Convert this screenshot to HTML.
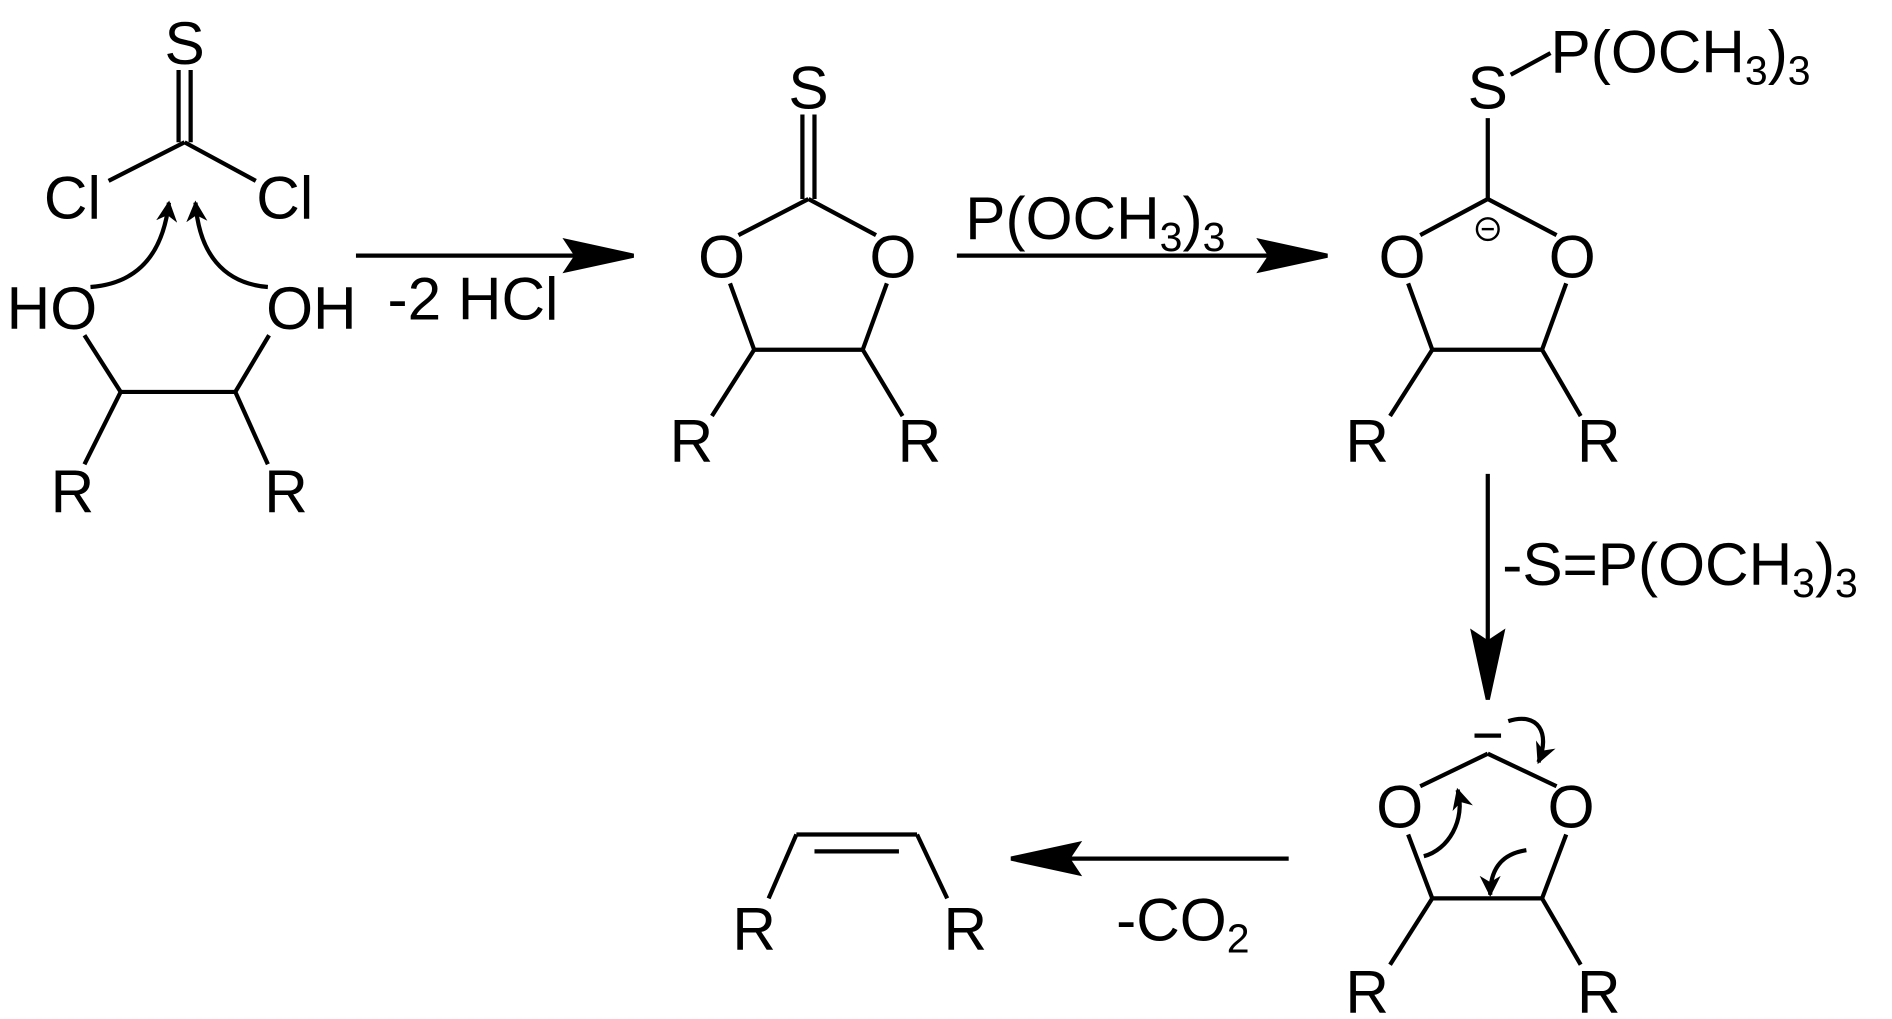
<!DOCTYPE html>
<html><head><meta charset="utf-8"><style>html,body{margin:0;padding:0;background:#fff;overflow:hidden}svg{display:block}</style></head><body>
<svg width="1892" height="1019" viewBox="0 0 1568 845" preserveAspectRatio="none" xmlns="http://www.w3.org/2000/svg">
<defs>
<marker id="sh" viewBox="0 0 10 10" refX="9" refY="5" markerWidth="5" markerHeight="5" orient="auto"><path d="M0,0 L10,5 L0,10 L3,5 z" fill="#000"/></marker>
</defs>
<g stroke="#000" stroke-width="3.5" fill="none">
<line x1="148" y1="58" x2="148" y2="118"/><line x1="158" y1="58" x2="158" y2="118"/>
<line x1="153" y1="118" x2="90" y2="150"/><line x1="153" y1="118" x2="212" y2="150"/>
<path d="M75,238 C115,235 135,210 140,168" marker-end="url(#sh)"/>
<path d="M222,238 C185,235 165,210 162,168" marker-end="url(#sh)"/>
<line x1="70" y1="278" x2="100" y2="325"/><line x1="100" y1="325" x2="195" y2="325"/><line x1="195" y1="325" x2="223" y2="278"/>
<line x1="100" y1="325" x2="70" y2="385"/><line x1="195" y1="325" x2="222" y2="385"/>
<line x1="295" y1="212" x2="500" y2="212"/>
<path d="M525,212 L470,200 L478,212 L470,224 z" fill="#000"/>
<line x1="665" y1="95" x2="665" y2="165"/><line x1="675" y1="95" x2="675" y2="165"/>
<line x1="670" y1="165" x2="612" y2="195"/><line x1="670" y1="165" x2="726" y2="195"/>
<line x1="605" y1="235" x2="625" y2="290"/><line x1="625" y1="290" x2="715" y2="290"/><line x1="715" y1="290" x2="735" y2="235"/>
<line x1="625" y1="290" x2="590" y2="345"/><line x1="715" y1="290" x2="748" y2="345"/>
<line x1="793" y1="212" x2="1075" y2="212"/>
<path d="M1100,212 L1045,200 L1053,212 L1045,224 z" fill="#000"/>
<line x1="1252" y1="62" x2="1285" y2="44"/>
<line x1="1233" y1="98" x2="1233" y2="165"/>
<line x1="1233" y1="165" x2="1177" y2="195"/><line x1="1233" y1="165" x2="1290" y2="195"/>
<circle cx="1233" cy="190" r="9" stroke-width="2"/><line x1="1228" y1="190" x2="1238" y2="190" stroke-width="2"/>
<line x1="1167" y1="235" x2="1187" y2="290"/><line x1="1187" y1="290" x2="1278" y2="290"/><line x1="1278" y1="290" x2="1298" y2="235"/>
<line x1="1187" y1="290" x2="1152" y2="345"/><line x1="1278" y1="290" x2="1310" y2="345"/>
<line x1="1233" y1="393" x2="1233" y2="560"/>
<path d="M1233,580 L1221,525 L1233,533 L1245,525 z" fill="#000"/>
<line x1="1222" y1="610" x2="1244" y2="610"/>
<line x1="1233" y1="625" x2="1177" y2="652"/><line x1="1233" y1="625" x2="1290" y2="652"/>
<line x1="1167" y1="692" x2="1187" y2="745"/><line x1="1187" y1="745" x2="1278" y2="745"/><line x1="1278" y1="745" x2="1298" y2="692"/>
<line x1="1187" y1="745" x2="1152" y2="800"/><line x1="1278" y1="745" x2="1310" y2="800"/>
<path d="M1250,598 C1275,590 1285,608 1275,632" marker-end="url(#sh)"/>
<path d="M1180,710 C1200,705 1215,680 1208,655" marker-end="url(#sh)"/>
<path d="M1265,705 C1245,708 1235,720 1235,742" marker-end="url(#sh)"/>
<line x1="1068" y1="712" x2="860" y2="712"/>
<path d="M838,712 L893,700 L885,712 L893,724 z" fill="#000"/>
<line x1="637" y1="745" x2="660" y2="692"/><line x1="660" y1="692" x2="760" y2="692"/><line x1="760" y1="692" x2="785" y2="745"/>
<line x1="675" y1="706" x2="745" y2="706"/>
</g>
<g font-family="Liberation Sans, sans-serif" font-size="50" fill="#000" text-anchor="middle">
<text x="153" y="53">S</text>
<text x="60" y="181">Cl</text><text x="236" y="181">Cl</text>
<text x="43" y="273">HO</text><text x="258" y="273">OH</text>
<text x="60" y="425">R</text><text x="237" y="425">R</text>
<text x="392" y="265">-2 HCl</text>
<text x="670" y="90">S</text>
<text x="598" y="230">O</text><text x="740" y="230">O</text>
<text x="573" y="383">R</text><text x="762" y="383">R</text>
<text x="800" y="198" text-anchor="start">P(OCH<tspan font-size="34" dy="10">3</tspan><tspan dy="-10">)</tspan><tspan font-size="34" dy="10">3</tspan></text>
<text x="1233" y="90">S</text>
<text x="1285" y="60" text-anchor="start">P(OCH<tspan font-size="34" dy="10">3</tspan><tspan dy="-10">)</tspan><tspan font-size="34" dy="10">3</tspan></text>
<text x="1162" y="230">O</text><text x="1303" y="230">O</text>
<text x="1133" y="383">R</text><text x="1325" y="383">R</text>
<text x="1245" y="485" text-anchor="start">-S=P(OCH<tspan font-size="34" dy="10">3</tspan><tspan dy="-10">)</tspan><tspan font-size="34" dy="10">3</tspan></text>
<text x="1160" y="686">O</text><text x="1302" y="686">O</text>
<text x="1133" y="840">R</text><text x="1325" y="840">R</text>
<text x="925" y="780" text-anchor="start">-CO<tspan font-size="34" dy="10">2</tspan></text>
<text x="625" y="788">R</text><text x="800" y="788">R</text>
</g>
</svg>
</body></html>
